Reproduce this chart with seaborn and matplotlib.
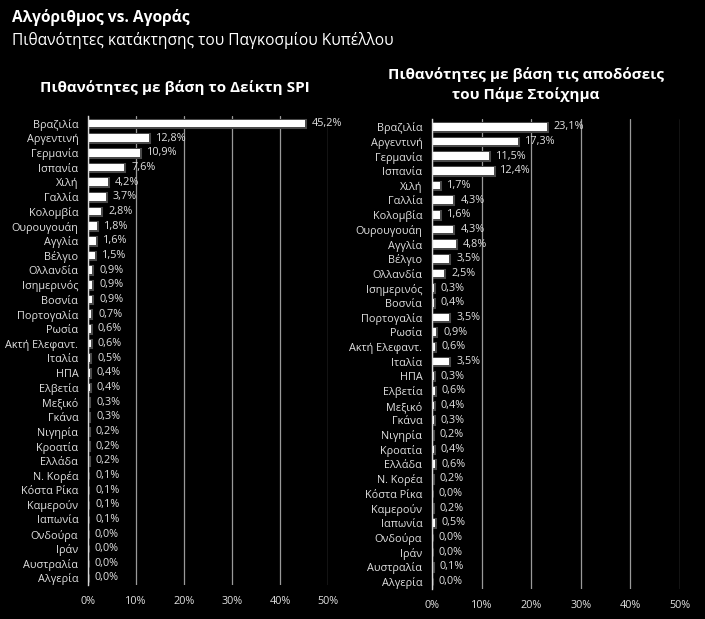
import pandas as pd
import seaborn as sns
import matplotlib.pyplot as plt
import matplotlib.patheffects as pe

# country names (same order in both panels)
countries = ['Βραζιλία', 'Αργεντινή', 'Γερμανία', 'Ισπανία', 'Χιλή', 'Γαλλία', 'Κολομβία',
             'Ουρουγουάη', 'Αγγλία', 'Βέλγιο', 'Ολλανδία', 'Ισημερινός', 'Βοσνία',
             'Πορτογαλία', 'Ρωσία', 'Ακτή Ελεφαντ.', 'Ιταλία', 'ΗΠΑ', 'Ελβετία', 'Μεξικό',
             'Γκάνα', 'Νιγηρία', 'Κροατία', 'Ελλάδα', 'Ν. Κορέα', 'Κόστα Ρίκα', 'Καμερούν',
             'Ιαπωνία', 'Ονδούρα', 'Ιράν', 'Αυστραλία', 'Αλγερία']

# probabilities from the SPI index (%)
spi_probs = [45.2, 12.8, 10.9, 7.6, 4.2, 3.7, 2.8, 1.8, 1.6, 1.5, 0.9, 0.9, 0.9, 0.7, 0.6,
             0.6, 0.5, 0.4, 0.4, 0.3, 0.3, 0.2, 0.2, 0.2, 0.1, 0.1, 0.1, 0.1, 0.0, 0.0, 0.0, 0.0]

# probabilities from the betting odds (%)
odds_probs = [23.1, 17.3, 11.5, 12.4, 1.7, 4.3, 1.6, 4.3, 4.8, 3.5, 2.5, 0.3, 0.4, 3.5, 0.9,
              0.6, 3.5, 0.3, 0.6, 0.4, 0.3, 0.2, 0.4, 0.6, 0.2, 0.0, 0.2, 0.5, 0.0, 0.0, 0.1, 0.0]

x_ticks = [0, 10, 20, 30, 40, 50]

sns.set_style('dark')
plt.rcParams['font.family'] = ['Open Sans', 'DejaVu Sans']

fig = plt.figure(figsize=(7.05, 6.19), dpi=100, facecolor='black')

fig.text(0.017, 0.972, 'Αλγόριθμος vs. Αγοράς', color='white', fontsize=11.2,
         fontweight='bold', va='center', ha='left')
fig.text(0.017, 0.935, 'Πιθανότητες κατάκτησης του Παγκοσμίου Κυπέλλου', color='white',
         fontsize=11.2, va='center', ha='left')


def draw_panel(ax, values, title, title_x, title_y):
    df = pd.DataFrame({'country': countries, 'prob': values})
    sns.barplot(data=df, y='country', x='prob', color='white', width=0.52,
                orient='h', ax=ax, saturation=1)
    for patch in ax.patches:
        patch.set_edgecolor('none')
        patch.set_path_effects([pe.withStroke(linewidth=2.2, foreground='#4a4a4a')])
    labels = [f'{v:.1f}%'.replace('.', ',') for v in values]
    ax.bar_label(ax.containers[0], labels=labels, padding=5, color='#e0e0e0', fontsize=7.8)
    ax.set_facecolor('black')
    ax.set_xlim(0, 50)
    ax.set_ylim(len(countries) - 0.5, -0.5)
    ax.set_xticks(x_ticks)
    ax.set_xticklabels([f'{t}%' for t in x_ticks])
    ax.set_xlabel('')
    ax.set_ylabel('')
    ax.grid(axis='x', color='#9a9a9a', linewidth=0.9)
    ax.grid(axis='y', visible=False)
    ax.tick_params(axis='both', colors='#e0e0e0', labelsize=7.8, length=0)
    ax.tick_params(axis='x', pad=8)
    ax.tick_params(axis='y', pad=7)
    for side in ['top', 'right', 'bottom']:
        ax.spines[side].set_visible(False)
    ax.spines['left'].set_color('#d8d8d8')
    ax.spines['left'].set_linewidth(1.0)
    ax.set_axisbelow(True)
    fig.text(title_x, title_y, title, color='white', fontsize=11,
             fontweight='bold', ha='center', va='center', linespacing=1.45)


ax1 = fig.add_axes([0.1248, 0.0544, 0.3404, 0.7577])
draw_panel(ax1, spi_probs, 'Πιθανότητες με βάση το Δείκτη SPI', 0.248, 0.858)

ax2 = fig.add_axes([0.6128, 0.0485, 0.3518, 0.7585])
draw_panel(ax2, odds_probs, 'Πιθανότητες με βάση τις αποδόσεις\nτου Πάμε Στοίχημα', 0.746, 0.863)

fig.savefig('out.png', dpi=100, facecolor='black')
